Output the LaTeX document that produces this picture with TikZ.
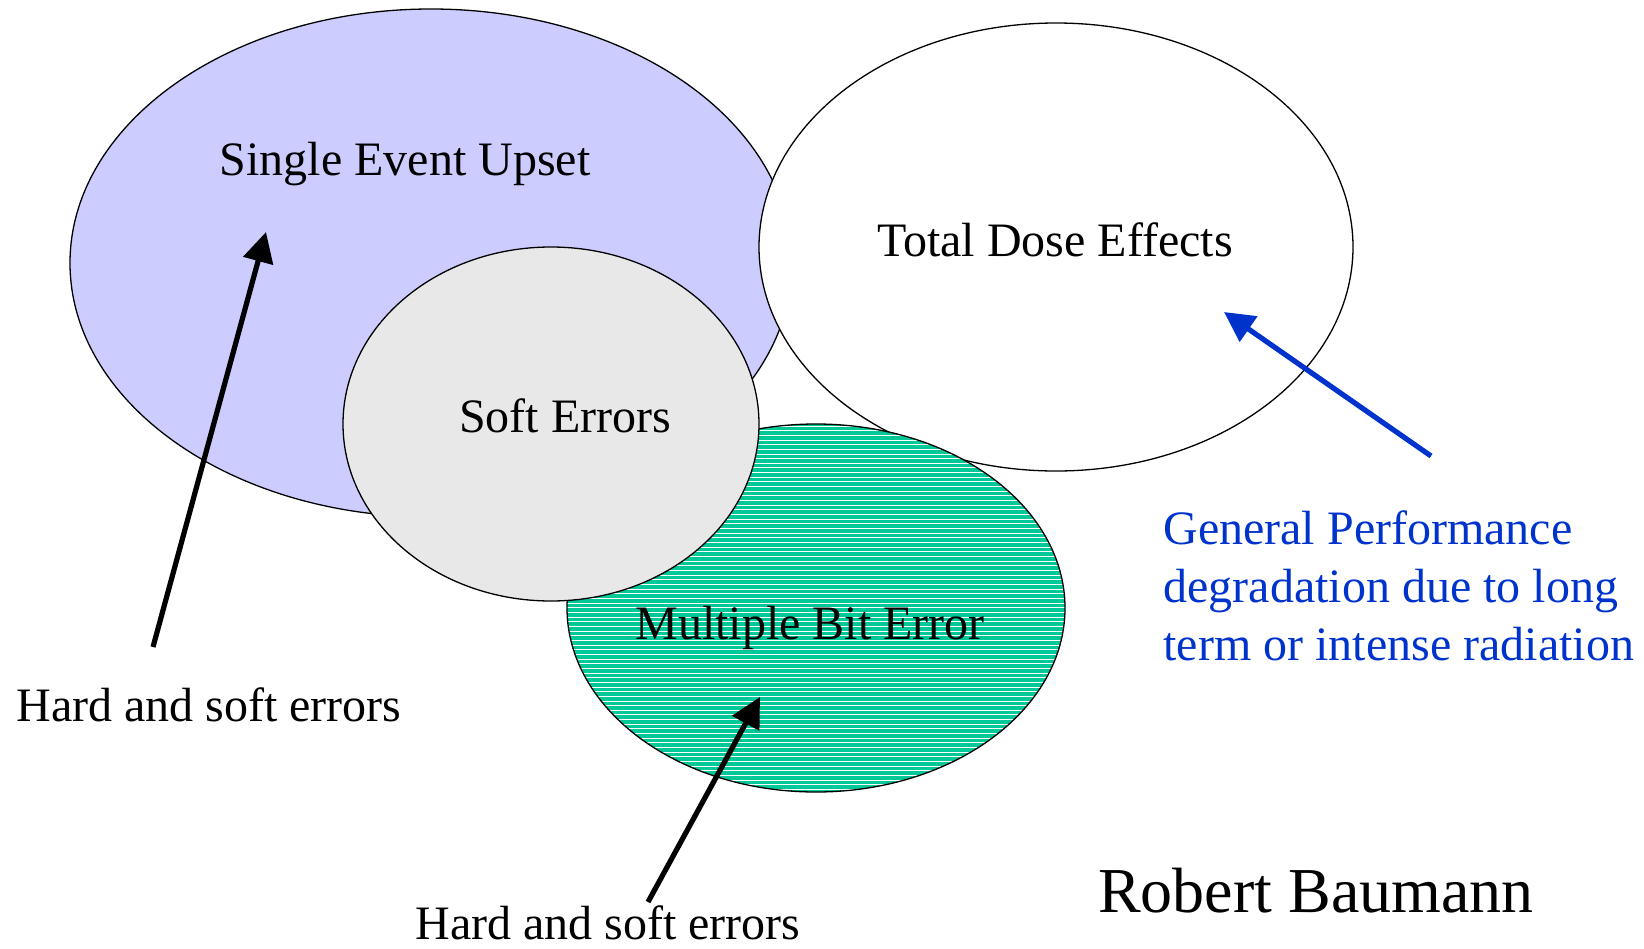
\documentclass[tikz,border=0pt]{standalone}
\usepackage{fontspec}
\setmainfont{Liberation Serif}
\usetikzlibrary{shapes.geometric,arrows.meta}
\definecolor{seublue}{HTML}{CCCCFF}
\definecolor{softgray}{HTML}{E8E8E8}
\definecolor{mbegreen}{HTML}{00C899}
\definecolor{arrowblue}{HTML}{0033CC}
\tikzset{
  blob/.style={ellipse, draw=black, line width=0.65pt, inner sep=0pt, outer sep=0pt},
  lbl/.style={font=\fontsize{24}{29}\selectfont, inner sep=0pt},
  bigarrow/.style={line width=2.6pt, -{Triangle[length=15pt,width=15pt]}},
  hatch/.style={path picture={
    \foreach \i in {0,...,82}
      \draw[white, line width=0.45pt]
        ([yshift=-1pt-\i*2.33pt]path picture bounding box.north west) --
        ([yshift=-1pt-\i*2.33pt]path picture bounding box.north east);}}
}
\begin{document}
\begin{tikzpicture}[x=0.5pt,y=-0.5pt]
\useasboundingbox (0,0) rectangle (1644,948);
% ellipses
\node[blob, fill=seublue, minimum width=361pt, minimum height=254pt] (seu) at (431,263) {};
\node[blob, fill=white, minimum width=297pt, minimum height=224pt] (tde) at (1056,247) {};
\node[blob, fill=mbegreen, hatch, minimum width=249pt, minimum height=184pt] (mbe) at (816,608) {};
\node[blob, fill=softgray, minimum width=208pt, minimum height=177pt] (se) at (551,424) {};
% labels
\node[lbl] (tseu) at (405,164) {Single Event Upset};
\node[lbl] (ttde) at (1055,240) {Total Dose Effects};
\node[lbl] (tse) at (565,416) {Soft Errors};
\node[lbl] (tmbe) at (810,628) {Multiple Bit Error};
\node[lbl, anchor=west] (hs1) at (16,705) {Hard and soft errors};
\node[lbl] (hs2) at (608,923) {Hard and soft errors};
\node[lbl, anchor=west, align=left, text=arrowblue] (gp) at (1163,586)
  {General Performance\\degradation due to long\\term or intense radiation};
\node[font=\fontsize{32}{38}\selectfont, inner sep=0pt] (rb) at (1316,891) {Robert Baumann};
% arrow tips
\coordinate (tip1) at (266,232);
\coordinate (tip2) at (760,697);
\coordinate (tip3) at (1224,312);
\coordinate (s1) at (153,647);
\coordinate (s2) at (648,902);
\coordinate (s3) at (1431,456);
\draw[bigarrow] (s1) -- (tip1);
\draw[bigarrow] (s2) -- (tip2);
\draw[bigarrow, draw=arrowblue, fill=arrowblue] (s3) -- (tip3);
\end{tikzpicture}
\end{document}
